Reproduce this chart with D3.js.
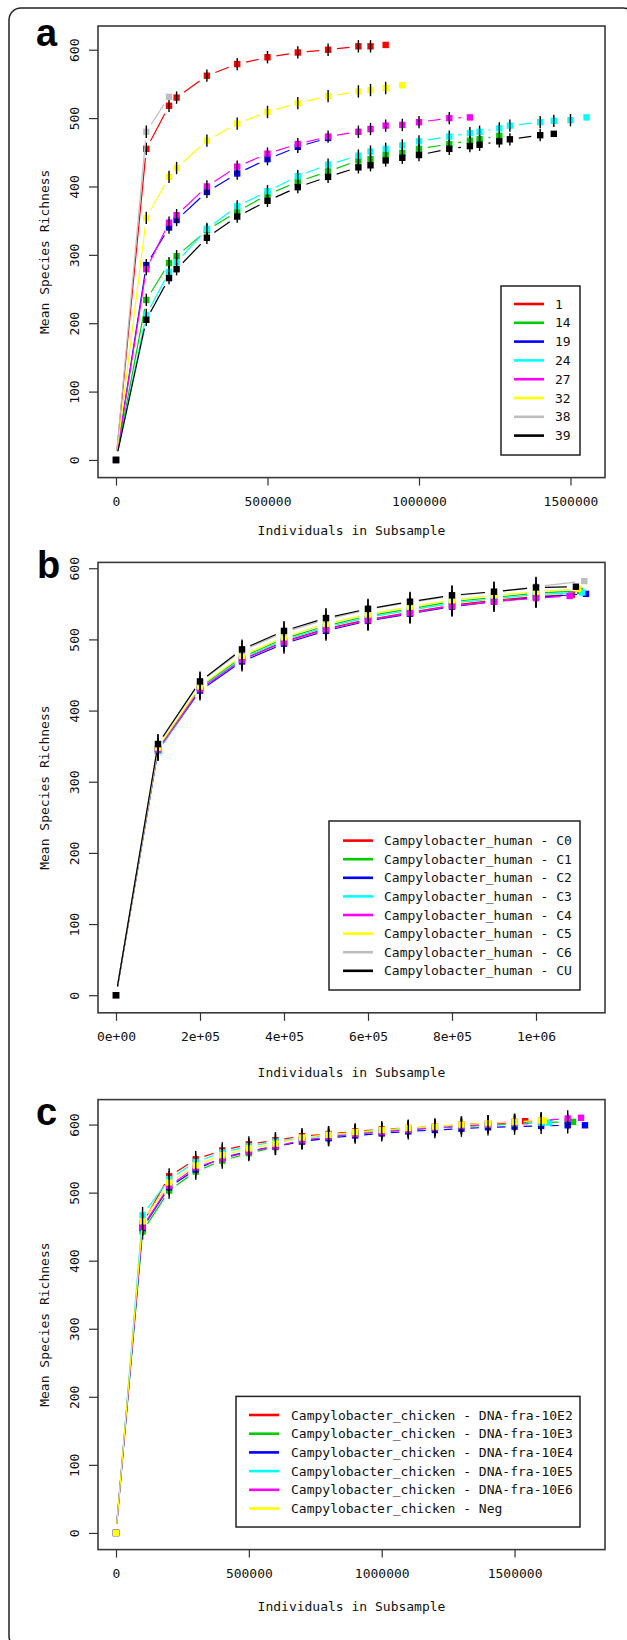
<!DOCTYPE html>
<html>
<head>
<meta charset="utf-8">
<script src="https://cdn.jsdelivr.net/npm/d3@7"></script>
<style>
  body { margin: 0; background: #fff; }
  svg { display: block; }
  text { font-family: 'DejaVu Sans Mono', 'Liberation Mono', monospace; font-size: 13px; fill: #111; }
  .letter { font-family: 'Liberation Sans', Arial, sans-serif; font-weight: bold; font-size: 38px; fill: #000; }
</style>
</head>
<body>
<svg id="chart" width="627" height="1640"></svg>
<script>
const colors = ['#ff0000', '#00cd00', '#0000ff', '#00ffff', '#ff00ff', '#ffff00', '#bebebe', '#000000']
const colorsC = ['#ff0000', '#00cd00', '#0000ff', '#00ffff', '#ff00ff', '#ffff00']

// panel a: subsample sizes shared by all samples, each sample stops at its own size
const namesA = ['1', '14', '19', '24', '27', '32', '38', '39']
const gridA = [0, 100000, 175000, 200000, 300000, 400000, 500000, 600000, 700000, 800000, 840000, 890000,
  945000, 1000000, 1100000, 1168000, 1200000, 1265000, 1300000, 1400000, 1445000, 1500000, 1553000]
const a1 = [0, 455, 518, 530, 562, 579, 589, 596, 600, 605, 605, 607]
const a14 = [0, 234, 288, 298, 336, 363, 388, 407, 422, 438, 440, 446, 449, 455, 462, 467, 469, 474]
const a19 = [0, 285, 340, 351, 392, 419, 440, 458, 471]
const a24 = [0, 212, 275, 289, 338, 371, 393, 415, 432, 445, 451, 455, 460, 466, 473, 478, 480, 485, 489, 494, 496, 497, 501]
const a27 = [0, 279, 347, 358, 400, 429, 448, 462, 473, 480, 484, 489, 490, 494, 500, 501]
const a32 = [0, 354, 414, 427, 467, 492, 509, 522, 532, 539, 541, 544, 548]
const a38 = [0, 480, 531]
const a39 = [0, 205, 266, 279, 325, 356, 379, 399, 414, 428, 431, 438, 442, 446, 455, 459, 461, 466, 469, 475, 477]

// panel b
const namesB = ['Campylobacter_human - C0', 'Campylobacter_human - C1', 'Campylobacter_human - C2', 'Campylobacter_human - C3',
  'Campylobacter_human - C4', 'Campylobacter_human - C5', 'Campylobacter_human - C6', 'Campylobacter_human - CU']
const gridB = [0, 100000, 200000, 300000, 400000, 500000, 600000, 700000, 800000, 900000, 1000000]
const endsB = [1085000, 1105000, 1119000, 1110000, 1080000, 1100000, 1115000, 1095000]
const bC0 = [0, 346, 432, 472, 497, 515, 528, 538, 548, 555, 560, 563]
const bC1 = [0, 347, 433, 475, 501, 519, 533, 543, 553, 559, 565, 568]
const bC2 = [0, 344, 428, 469, 494, 512, 526, 536, 546, 553, 559, 564]
const bC3 = [0, 343, 431, 473, 499, 517, 531, 541, 551, 557, 563, 566]
const bC4 = [0, 345, 430, 471, 496, 514, 527, 537, 547, 553, 558, 561]
const bC5 = [0, 348, 434, 477, 503, 522, 535, 546, 555, 562, 567, 571]
const bC6 = [0, 352, 440, 484, 510, 528, 542, 552, 561, 567, 574, 582]
const bCU = [0, 353, 441, 486, 512, 530, 543, 553, 562, 567, 573, 574]

// panel c
const namesC = ['Campylobacter_chicken - DNA-fra-10E2', 'Campylobacter_chicken - DNA-fra-10E3', 'Campylobacter_chicken - DNA-fra-10E4',
  'Campylobacter_chicken - DNA-fra-10E5', 'Campylobacter_chicken - DNA-fra-10E6', 'Campylobacter_chicken - Neg']
const gridC = [0, 100000, 200000, 300000, 400000, 500000, 600000, 700000, 800000, 900000, 1000000,
  1100000, 1200000, 1300000, 1400000, 1500000, 1600000, 1700000]
const endsC = [1540000, 1720000, 1765000, 1630000, 1750000, 1610000]
const c10E2 = [0, 455, 524, 549, 562, 571, 577, 583, 586, 590, 593, 595, 597, 600, 602, 604, 605]
const c10E3 = [0, 443, 503, 531, 547, 558, 567, 576, 581, 586, 590, 593, 595, 597, 599, 601, 603, 604, 604]
const c10E4 = [0, 448, 508, 534, 551, 561, 568, 575, 580, 584, 587, 590, 592, 594, 596, 597, 598, 599, 599]
const c10E5 = [0, 467, 520, 545, 559, 568, 575, 580, 584, 588, 591, 594, 596, 598, 600, 602, 603, 603]
const c10E6 = [0, 450, 510, 537, 550, 560, 568, 577, 582, 586, 589, 592, 595, 598, 600, 603, 606, 609, 610]
const cNeg = [0, 458, 515, 540, 555, 565, 572, 581, 585, 589, 592, 595, 597, 600, 602, 604, 606, 606]

const sciFormat = v => v === 0 ? '0e+00'
  : d3.format('.0e')(v).replace(/e([+-])(\d)$/, (m, s, d) => 'e' + s + '0' + d)

const withEnds = (grid, ends, series) => series.map((ys, i) => ({
  xs: grid.slice(0, ys.length - 1).concat(ends[i]),
  ys
}))

const panels = [
  {
    letter: 'a', letterPos: [36, 46],
    box: { l: 98, r: 605, t: 26, b: 477.6 },
    xDomain: [-59400, 1613900], yDomain: [-25.8, 634.7],
    xTicks: [0, 500000, 1000000, 1500000], xFormat: d3.format('d'),
    series: [a1, a14, a19, a24, a27, a32, a38, a39].map(ys => ({ xs: gridA.slice(0, ys.length), ys })),
    names: namesA, colors, err: 9,
    legend: { l: 501, r: 580, t: 286, b: 455, row0: 304, step: 18.8, x1: 514, x2: 544, tx: 555 },
    titleY: 530
  },
  {
    letter: 'b', letterPos: [37, 578],
    box: { l: 98, r: 605, t: 562.4, b: 1012.8 },
    xDomain: [-42857, 1164286], yDomain: [-24.7, 608.2],
    xTicks: [0, 200000, 400000, 600000, 800000, 1000000], xFormat: sciFormat,
    series: withEnds(gridB, endsB, [bC0, bC1, bC2, bC3, bC4, bC5, bC6, bCU]),
    names: namesB, colors, err: 14,
    legend: { l: 329, r: 580, t: 821, b: 990, row0: 840.6, step: 18.6, x1: 343, x2: 373, tx: 384 },
    titleY: 1072
  },
  {
    letter: 'c', letterPos: [36, 1125],
    box: { l: 98, r: 605, t: 1099.6, b: 1549.6 },
    xDomain: [-67771, 1840361], yDomain: [-24.5, 636.7],
    xTicks: [0, 500000, 1000000, 1500000], xFormat: d3.format('d'),
    series: withEnds(gridC, endsC, [c10E2, c10E3, c10E4, c10E5, c10E6, cNeg]),
    names: namesC, colors: colorsC, err: 12,
    legend: { l: 236, r: 580, t: 1396.4, b: 1527, row0: 1415, step: 18.7, x1: 249, x2: 279, tx: 291 },
    titleY: 1606
  }
]

const svg = d3.select('#chart')

// outer rounded frame, cut off at right and bottom like the figure
svg.append('rect')
  .attr('x', 9).attr('y', 8)
  .attr('width', 626).attr('height', 1640)
  .attr('rx', 12)
  .attr('fill', 'none')
  .attr('stroke', '#222')
  .attr('stroke-width', 1.5)

const gap = 9 // type="b": lines stop short of the points

function drawPanel (p) {
  const x = d3.scaleLinear().domain(p.xDomain).range([p.box.l, p.box.r])
  const y = d3.scaleLinear().domain(p.yDomain).range([p.box.b, p.box.t])
  const g = svg.append('g')

  g.append('text')
    .attr('class', 'letter')
    .attr('x', p.letterPos[0])
    .attr('y', p.letterPos[1])
    .text(p.letter)

  const xAxis = g.append('g')
    .attr('transform', `translate(0,${p.box.b})`)
    .call(d3.axisBottom(x).tickValues(p.xTicks).tickFormat(p.xFormat).tickSize(8).tickSizeOuter(0).tickPadding(11))
  xAxis.select('.domain').remove()
  xAxis.selectAll('line').attr('stroke', '#333').attr('stroke-width', 1.2)
  xAxis.selectAll('text').attr('font-size', 13).attr('fill', '#111').style('font-family', null)

  const yAxis = g.append('g')
    .attr('transform', `translate(${p.box.l},0)`)
    .call(d3.axisLeft(y).tickValues(d3.range(0, 601, 100)).tickFormat(d3.format('d')).tickSize(9).tickSizeOuter(0))
  yAxis.select('.domain').remove()
  yAxis.selectAll('line').attr('stroke', '#333').attr('stroke-width', 1.2)
  yAxis.selectAll('text')
    .attr('font-size', 13).attr('fill', '#111')
    .attr('text-anchor', 'middle')
    .attr('x', 0).attr('y', -19).attr('dy', 0)
    .attr('transform', 'rotate(-90)')

  g.append('text')
    .attr('x', (p.box.l + p.box.r) / 2)
    .attr('y', p.titleY)
    .attr('dy', '0.35em')
    .attr('text-anchor', 'middle')
    .text('Individuals in Subsample')

  g.append('text')
    .attr('transform', `translate(44,${(p.box.t + p.box.b) / 2}) rotate(-90)`)
    .attr('dy', '0.35em')
    .attr('text-anchor', 'middle')
    .text('Mean Species Richness')

  const plot = g.append('g')

  p.series.forEach((s, i) => {
    const pts = s.ys.map((v, j) => [x(s.xs[j]), y(v)])
    const sg = plot.append('g')

    const segs = d3.pairs(pts)
      .map(([a, b]) => {
        const dx = b[0] - a[0]
        const dy = b[1] - a[1]
        const len = Math.hypot(dx, dy)
        if (len <= gap * 2) return null
        const ux = dx / len
        const uy = dy / len
        return [a[0] + ux * gap, a[1] + uy * gap, b[0] - ux * gap, b[1] - uy * gap]
      })
      .filter(d => d)

    sg.selectAll('line.seg')
      .data(segs)
      .enter().append('line')
      .attr('class', 'seg')
      .attr('x1', d => d[0]).attr('y1', d => d[1])
      .attr('x2', d => d[2]).attr('y2', d => d[3])
      .attr('stroke', p.colors[i])
      .attr('stroke-width', 1.2)

    sg.selectAll('rect')
      .data(pts)
      .enter().append('rect')
      .attr('x', d => d[0] - 3.2)
      .attr('y', d => d[1] - 3.2)
      .attr('width', 6.4)
      .attr('height', 6.4)
      .attr('fill', p.colors[i])

    // error bars, none at zero and at the full sample size
    sg.selectAll('line.err')
      .data(s.ys.map((v, j) => ({ x: s.xs[j], v })).filter((d, j) => j > 0 && j < s.ys.length - 1))
      .enter().append('line')
      .attr('class', 'err')
      .attr('x1', d => x(d.x)).attr('x2', d => x(d.x))
      .attr('y1', d => y(d.v - p.err)).attr('y2', d => y(d.v + p.err))
      .attr('stroke', '#000')
      .attr('stroke-width', 1.4)
  })

  g.append('rect')
    .attr('x', p.box.l).attr('y', p.box.t)
    .attr('width', p.box.r - p.box.l).attr('height', p.box.b - p.box.t)
    .attr('fill', 'none')
    .attr('stroke', '#3a3a3a')
    .attr('stroke-width', 1.6)

  const lg = p.legend
  const leg = g.append('g')
  leg.append('rect')
    .attr('x', lg.l).attr('y', lg.t)
    .attr('width', lg.r - lg.l).attr('height', lg.b - lg.t)
    .attr('fill', '#fff')
    .attr('stroke', '#222')
    .attr('stroke-width', 1.5)

  const row = leg.selectAll('g.row')
    .data(p.names)
    .enter().append('g')
    .attr('class', 'row')
    .attr('transform', (d, i) => `translate(0,${lg.row0 + i * lg.step})`)

  row.append('line')
    .attr('x1', lg.x1).attr('x2', lg.x2)
    .attr('stroke', (d, i) => p.colors[i])
    .attr('stroke-width', 2.6)

  row.append('text')
    .attr('x', lg.tx)
    .attr('dy', '0.35em')
    .text(d => d)
}

panels.forEach(drawPanel)
</script>
</body>
</html>
